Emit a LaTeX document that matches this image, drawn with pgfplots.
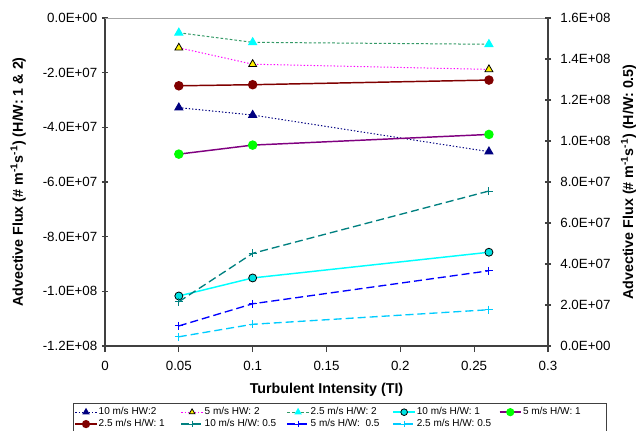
\documentclass[border=0pt]{standalone}
\usepackage{fontspec}
\setmainfont{Liberation Sans}
\usepackage{pgfplots}
\pgfplotsset{compat=1.18}

\definecolor{navyc}{RGB}{0,0,128}
\definecolor{magc}{RGB}{255,0,255}
\definecolor{seag}{RGB}{51,153,102}
\definecolor{cyanc}{RGB}{0,255,255}
\definecolor{turq}{RGB}{0,225,225}
\definecolor{purp}{RGB}{128,0,128}
\definecolor{lime}{RGB}{0,255,0}
\definecolor{dred}{RGB}{128,0,0}
\definecolor{tealc}{RGB}{0,128,128}
\definecolor{bluec}{RGB}{0,0,255}
\definecolor{skyc}{RGB}{0,204,255}
\definecolor{axisc}{RGB}{64,64,64}

\pgfplotsset{
  base/.style={
    scale only axis, width=332.25pt, height=246pt,
    xmin=0, xmax=0.3,
    scaled y ticks=false, scaled x ticks=false,
    axis line style={axisc, line width=1pt},
    tick style={axisc, line width=0.8pt},
    major tick length=4.5pt,
    ticklabel style={font=\fontsize{10}{12}\selectfont},
    label style={font=\bfseries\fontsize{10.7}{12}\selectfont},
    legend image code/.code={
      \draw[mark repeat=2, mark phase=2] plot coordinates {(0pt,0pt) (8pt,0pt) (16pt,0pt)};},
    legend image post style={mark size=2.5pt},
  },
  hwA/.style={navyc, line width=0.75pt, dash pattern=on 1pt off 1.5pt,
    mark=triangle*, mark size=3.4pt, mark options={solid, fill=navyc}},
  hwB/.style={magc, line width=0.75pt, dash pattern=on 1pt off 1.5pt,
    mark=triangle*, mark size=3.4pt, mark options={solid, fill=yellow, draw=black, line width=0.6pt}},
  hwC/.style={seag, line width=0.75pt, dash pattern=on 2pt off 1.5pt,
    mark=triangle*, mark size=3.4pt, mark options={solid, fill=cyanc, draw=cyanc}},
  hwD/.style={cyanc, line width=1.1pt, solid,
    mark=*, mark size=3pt, mark options={fill=turq, draw=black, line width=0.6pt}},
  hwE/.style={purp, line width=1.1pt, solid,
    mark=*, mark size=3pt, mark options={fill=lime, draw=lime}},
  hwF/.style={dred, line width=1.1pt, solid,
    mark=*, mark size=3pt, mark options={fill=dred, draw=dred}},
  hwG/.style={tealc, line width=1pt, dash pattern=on 6pt off 3pt,
    mark=+, mark size=3pt, mark options={solid, line width=0.75pt}},
  hwH/.style={bluec, line width=1pt, dash pattern=on 6pt off 3pt,
    mark=+, mark size=3pt, mark options={solid, line width=0.75pt}},
  hwI/.style={skyc, line width=1pt, dash pattern=on 6pt off 3pt,
    mark=+, mark size=3pt, mark options={solid, line width=0.75pt}},
}

\begin{document}
\begin{tikzpicture}
\begin{axis}[
  base,
  ymin=-1.2e8, ymax=0,
  axis x line*=bottom, axis y line*=left,
  xtick={0,0.05,0.1,0.15,0.2,0.25,0.3},
  xticklabels={0,0.05,0.1,0.15,0.2,0.25,0.3},
  xticklabel style={yshift=-3pt},
  xtick align=outside, ytick align=center,
  ytick={-1.2e8,-1e8,-8e7,-6e7,-4e7,-2e7,0},
  yticklabels={-1.2E+08,-1.0E+08,-8.0E+07,-6.0E+07,-4.0E+07,-2.0E+07,0.0E+00},
  xlabel={Turbulent Intensity (TI)},
  xlabel style={at={(axis description cs:0.5,-0.135)}, anchor=center},
  ylabel={Advective Flux (\# m\textsuperscript{-1}s\textsuperscript{-1}) (H/W: 1 \& 2)},
  ylabel style={at={(axis description cs:-0.196,0.5)}, anchor=center},
]
\draw[gray!70, line width=1pt] (rel axis cs:0,1) -- (rel axis cs:1,1);
\addplot[hwA] coordinates {(0.05,-3.28e7) (0.1,-3.55e7) (0.26,-4.89e7)};
\addplot[hwB] coordinates {(0.05,-1.09e7) (0.1,-1.69e7) (0.26,-1.88e7)};
\addplot[hwC] coordinates {(0.05,-5.4e6) (0.1,-8.9e6) (0.26,-9.6e6)};
\addplot[hwD] coordinates {(0.05,-1.017e8) (0.1,-9.51e7) (0.26,-8.57e7)};
\addplot[hwE] coordinates {(0.05,-4.98e7) (0.1,-4.65e7) (0.26,-4.26e7)};
\addplot[hwF] coordinates {(0.05,-2.48e7) (0.1,-2.44e7) (0.26,-2.27e7)};
\end{axis}

\begin{axis}[
  base,
  ymin=0, ymax=1.6e8,
  axis x line=none, axis y line*=right,
  ytick align=center,
  yticklabel style={xshift=3.5pt},
  ytick={0,2e7,4e7,6e7,8e7,1e8,1.2e8,1.4e8,1.6e8},
  yticklabels={0.0E+00,2.0E+07,4.0E+07,6.0E+07,8.0E+07,1.0E+08,1.2E+08,1.4E+08,1.6E+08},
  ylabel={Advective Flux (\# m\textsuperscript{-1}s\textsuperscript{-1}) (H/W: 0.5)},
  ylabel style={at={(axis description cs:1.182,0.5)}, anchor=center, rotate=0},
  legend columns=5,
  legend cell align=left,
  legend style={at={(axis description cs:-0.0728,-0.1738)}, anchor=north west,
    draw=axisc, line width=0.8pt, inner xsep=1pt, inner ysep=2pt,
    font=\fontsize{7.5}{9}\selectfont, row sep=0pt,
    nodes={inner sep=1pt}},
]
\addlegendimage{hwA}\addlegendentry{\makebox[60.5pt][l]{10 m/s HW:2}}
\addlegendimage{hwB}\addlegendentry{\makebox[60.5pt][l]{5 m/s HW: 2}}
\addlegendimage{hwC}\addlegendentry{\makebox[60.5pt][l]{2.5 m/s H/W: 2}}
\addlegendimage{hwD}\addlegendentry{\makebox[60.5pt][l]{10 m/s H/W: 1}}
\addlegendimage{hwE}\addlegendentry{\makebox[60.5pt][l]{5 m/s H/W: 1}}
\addlegendimage{hwF}\addlegendentry{\makebox[60.5pt][l]{2.5 m/s H/W: 1}}
\addplot[hwG] coordinates {(0.05,2.16e7) (0.1,4.52e7) (0.26,7.56e7)};
\addlegendentry{\makebox[60.5pt][l]{10 m/s H/W: 0.5}}
\addplot[hwH] coordinates {(0.05,9.8e6) (0.1,2.06e7) (0.26,3.67e7)};
\addlegendentry{\makebox[60.5pt][l]{5 m/s H/W:\ \ 0.5}}
\addplot[hwI] coordinates {(0.05,4.5e6) (0.1,1.06e7) (0.26,1.77e7)};
\addlegendentry{\makebox[60.5pt][l]{2.5 m/s H/W: 0.5}}
\end{axis}
\pgfresetboundingbox
\path[use as bounding box] (-78.75pt,-63pt) rectangle (401.25pt,259.5pt);
\end{tikzpicture}
\end{document}
